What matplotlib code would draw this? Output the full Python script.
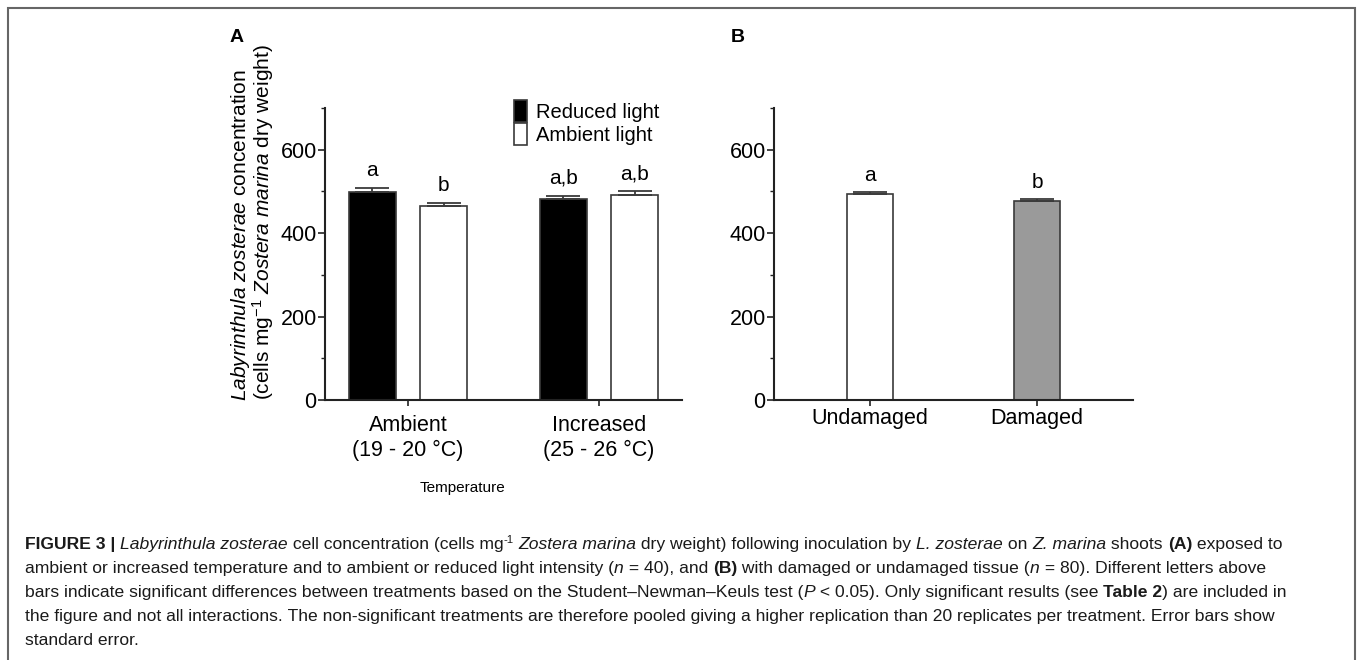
import numpy as np
import matplotlib
matplotlib.use("Agg")
from matplotlib import pyplot as plt
from matplotlib.patches import Rectangle
from matplotlib.ticker import MultipleLocator

plt.rcParams['font.family'] = ['Liberation Sans', 'DejaVu Sans']
plt.rcParams['mathtext.fontset'] = 'custom'
plt.rcParams['mathtext.rm'] = 'Liberation Sans'
plt.rcParams['mathtext.it'] = 'Liberation Sans:italic'
plt.rcParams['mathtext.bf'] = 'Liberation Sans:bold'

# Panel A data
TEMPERATURES = ["Ambient\n(19 - 20 °C)", "Increased\n(25 - 26 °C)"]
REDUCED_LIGHT = [498, 482]
REDUCED_LIGHT_SE = [10, 7]
AMBIENT_LIGHT = [465, 492]
AMBIENT_LIGHT_SE = [8, 8]
LETTERS_REDUCED = ["a", "a,b"]
LETTERS_AMBIENT = ["b", "a,b"]

# Panel B data
TISSUE = ["Undamaged", "Damaged"]
TISSUE_VALUES = [493, 476]
TISSUE_SE = [6, 6]
TISSUE_LETTERS = ["a", "b"]
TISSUE_COLOURS = ["white", "#9a9a9a"]

# caption pieces: (text, style)  n=normal, i=italic, b=bold, s=superscript
CAPTION = [
    [("FIGURE 3 | ", "b"), ("Labyrinthula zosterae", "i"), (" cell concentration (cells mg", "n"),
     ("-1", "s"), (" ", "n"), ("Zostera marina", "i"), (" dry weight) following inoculation by ", "n"),
     ("L. zosterae", "i"), (" on ", "n"), ("Z. marina", "i"), (" shoots ", "n"), ("(A)", "b"),
     (" exposed to", "n")],
    [("ambient or increased temperature and to ambient or reduced light intensity (", "n"), ("n", "i"),
     (" = 40), and ", "n"), ("(B)", "b"), (" with damaged or undamaged tissue (", "n"), ("n", "i"),
     (" = 80). Different letters above", "n")],
    [("bars indicate significant differences between treatments based on the Student–Newman–Keuls test (", "n"),
     ("P", "i"), (" < 0.05). Only significant results (see ", "n"), ("Table 2", "b"), (") are included in", "n")],
    [("the figure and not all interactions. The non-significant treatments are therefore pooled giving "
      "a higher replication than 20 replicates per treatment. Error bars show", "n")],
    [("standard error.", "n")],
]

W, H = 1358, 660
fig = plt.figure(figsize=(W / 100, H / 100), dpi=100)

def px_axes(left, right, top, bottom):
    return fig.add_axes([left / W, 1 - bottom / H, (right - left) / W, (bottom - top) / H])

AXCOL = "#222222"
EDGE = "#3a3a3a"
FS = 14.5
TFS = 15.5

def style_axis(ax, pad):
    for s in ["top", "right"]:
        ax.spines[s].set_visible(False)
    for s in ["left", "bottom"]:
        ax.spines[s].set_linewidth(1.5)
        ax.spines[s].set_color(AXCOL)
    ax.set_ylim(0, 700)
    ax.yaxis.set_major_locator(MultipleLocator(200))
    ax.yaxis.set_minor_locator(MultipleLocator(100))
    ax.tick_params(axis="y", which="major", length=5, width=1.2, pad=1, labelsize=TFS, color=AXCOL)
    ax.tick_params(axis="y", which="minor", length=3, width=1.0, color=AXCOL)
    ax.tick_params(axis="x", length=4, width=1.2, pad=pad, labelsize=TFS, color=AXCOL)

# ---- Panel A ----
axA = px_axes(325, 682, 108, 400)
x = np.arange(len(TEMPERATURES))
off, bw = 0.188, 0.246
errkw = dict(ecolor=EDGE, elinewidth=1.3, capsize=12, capthick=1.3)
axA.bar(x - off, REDUCED_LIGHT, bw, color="black", edgecolor=EDGE, linewidth=1.2,
        yerr=[[0, 0], REDUCED_LIGHT_SE], error_kw=errkw, label="Reduced light")
axA.bar(x + off, AMBIENT_LIGHT, bw, color="white", edgecolor=EDGE, linewidth=1.2,
        yerr=[[0, 0], AMBIENT_LIGHT_SE], error_kw=errkw, label="Ambient light")
for i in range(len(x)):
    axA.text(x[i] - off, REDUCED_LIGHT[i] + REDUCED_LIGHT_SE[i] + 29, LETTERS_REDUCED[i],
             ha="center", va="baseline", fontsize=15)
    axA.text(x[i] + off, AMBIENT_LIGHT[i] + AMBIENT_LIGHT_SE[i] + 29, LETTERS_AMBIENT[i],
             ha="center", va="baseline", fontsize=15)
axA.set_xlim(-0.435, 1.435)
axA.set_xticks(x)
axA.set_xticklabels(TEMPERATURES, linespacing=1.25)
style_axis(axA, 7)
axA.legend(loc="upper left", bbox_to_anchor=(0.529, 1.027), frameon=False, fontsize=FS,
           handlelength=0.65, handleheight=1.3, handletextpad=0.45, labelspacing=0.05,
           borderpad=0, borderaxespad=0)

# ---- Panel B ----
axB = px_axes(774, 1133, 108, 400)
xb = np.arange(len(TISSUE))
axB.bar(xb, TISSUE_VALUES, 0.28, color=TISSUE_COLOURS, edgecolor=EDGE, linewidth=1.2,
        yerr=[[0, 0], TISSUE_SE], error_kw=errkw)
for i in range(len(xb)):
    axB.text(xb[i], TISSUE_VALUES[i] + TISSUE_SE[i] + 26, TISSUE_LETTERS[i],
             ha="center", va="baseline", fontsize=15)
axB.set_xlim(-0.575, 1.575)
axB.set_xticks(xb)
axB.set_xticklabels(TISSUE)
style_axis(axB, 2)

# panel letters, labels
fig.text(237 / W, 1 - 37 / H, "A", fontsize=14, fontweight="bold", ha="center", va="center")
fig.text(738 / W, 1 - 37 / H, "B", fontsize=14, fontweight="bold", ha="center", va="center")
fig.text(240 / W, 1 - 235 / H, r"$\mathit{Labyrinthula}$ $\mathit{zosterae}$ concentration",
         rotation=90, fontsize=15, ha="center", va="center")
fig.text(263 / W, 1 - 222 / H, r"(cells mg$^{-1}$ $\mathit{Zostera}$ $\mathit{marina}$ dry weight)",
         rotation=90, fontsize=15, ha="center", va="center")
fig.text(463 / W, 1 - 488 / H, "Temperature", fontsize=11, ha="center", va="center")

# caption drawn piece by piece
renderer = fig.canvas.get_renderer()
CFS = 12.6
space_w = None
for k, line in enumerate(CAPTION):
    xpx = 25
    ypx = H - (545 + 24 * k)
    for txt, st in line:
        kw = dict(fontsize=CFS, color="#1a1a1a", ha="left", va="baseline")
        yy = ypx - 4
        if st == "b":
            kw["fontweight"] = "bold"
        elif st == "i":
            kw["fontstyle"] = "italic"
        elif st == "s":
            kw["fontsize"] = CFS * 0.65
            yy = ypx + 2
        # keep leading/trailing spaces by measuring with a marker
        probe = fig.text(0, 0, txt.replace(" ", "\u00a0") + "|", **kw)
        bar = fig.text(0, 0, "|", **kw)
        wpx = probe.get_window_extent(renderer).width - bar.get_window_extent(renderer).width
        probe.remove()
        bar.remove()
        fig.text(xpx / W, yy / H, txt.replace(" ", "\u00a0"), **kw)
        xpx += wpx

fig.patches.append(Rectangle((8 / W, -0.02), (1355 - 8) / W, 1.02 - 8 / H,
                             transform=fig.transFigure, fill=False, edgecolor="#666666",
                             linewidth=1.5))

fig.savefig("out.png", dpi=100)
